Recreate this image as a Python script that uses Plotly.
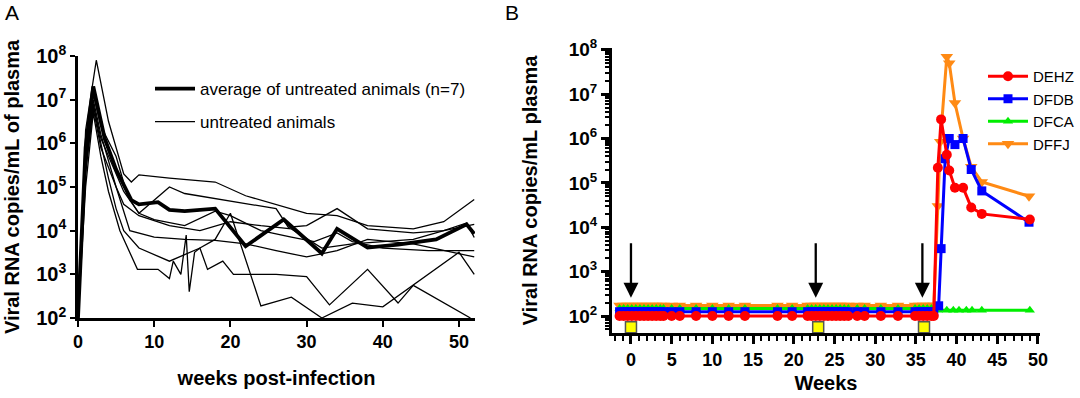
import plotly.graph_objects as go

FONT = "Liberation Sans, Arial, sans-serif"

# ---------------- Panel A data (weeks post-infection, viral RNA copies/mL) ----------------
avg_weeks = [0, 1, 2, 3.5, 5, 7, 8, 10.5, 12, 14, 18, 22, 27, 32, 34, 38, 42, 45, 47, 51, 52]
avg_vals = [1e2, 8e5, 2e7, 1.3e6, 2.5e5, 5e4, 4e4, 4.5e4, 3e4, 2.8e4, 3.2e4, 4.4e3, 1.8e4,
            3e3, 1.1e4, 4.1e3, 4.8e3, 5.6e3, 6.3e3, 1.4e4, 8.5e3]

a1_weeks = [0, 1, 2.4, 4, 6, 7, 8, 12, 18, 22, 30, 34, 38, 44, 48, 52]
a1_vals = [1e2, 2e6, 8e7, 3.2e6, 2e5, 1.3e5, 1.9e5, 1.6e5, 1.3e5, 6.3e4, 2.5e4, 2.2e4, 1.3e4,
           1.1e4, 1.6e4, 5.2e4]
a2_weeks = [0, 1, 2, 3, 5, 6.5, 8, 12, 14, 20, 26, 27.6, 30, 34, 38, 44, 48, 51, 52]
a2_vals = [1e2, 6.3e5, 1.3e7, 2.5e6, 5e5, 6.3e4, 2.5e4, 1e5, 7.1e4, 4.8e4, 3.2e4, 1.2e4, 1.3e4,
           3.2e4, 1.1e4, 8.9e3, 1e4, 1.5e4, 7e3]
a3_weeks = [0, 1, 2, 3, 4.5, 6, 8, 10, 14, 18, 20, 24, 28, 31, 34, 36, 40, 46, 52]
a3_vals = [1e2, 3.2e5, 7.9e6, 1.3e6, 3.2e5, 7.9e4, 2.5e4, 1.8e4, 1.3e4, 2.8e4, 2.2e4, 1e4, 7.1e3,
           5.6e3, 8.9e3, 5.6e3, 4e3, 3.5e3, 3.5e3]
a4_weeks = [0, 1, 2, 3, 5, 6.8, 10, 14, 18, 22, 26, 30, 34, 38, 44, 52]
a4_vals = [1e2, 2.5e5, 6.3e6, 7.9e5, 1e5, 1e4, 7.1e3, 6.3e3, 6e3, 5e3, 3.5e3, 2.5e3, 3.5e3,
           6.3e3, 5e3, 2.5e3]
a5_weeks = [0, 1, 2, 3, 4, 5.5, 7.8, 10.5, 12, 12.5, 13.5, 14.2, 14.6, 15.3, 16, 17, 19, 20.4,
            26, 30, 33, 38, 42, 44, 51.5]
a5_vals = [1e2, 1e5, 5e6, 5e5, 7.9e4, 1e4, 1.3e3, 1.3e3, 800, 2e3, 1e3, 7.9e3, 400, 3.2e3, 4e3,
           1.3e3, 2e3, 1e3, 1e3, 890, 200, 1.3e3, 220, 560, 100]
a6_weeks = [0, 1, 2, 3, 4, 5, 6, 8, 12, 16, 18, 20, 24, 28, 32, 36, 40, 46, 50, 52]
a6_vals = [1e2, 2e5, 7.9e6, 1e6, 1.6e5, 3.2e4, 1e4, 4e3, 2e3, 4e3, 6.3e3, 2.5e4, 190, 300, 100,
           220, 180, 1e3, 3.2e3, 1e3]
a7_weeks = [0, 1, 2, 3, 4, 5, 6, 8, 12, 16, 20, 24, 28, 32, 36, 40, 44, 48, 52]
a7_vals = [1e2, 4e5, 1e7, 1.6e6, 4e5, 1e5, 4e4, 2.2e4, 1.3e4, 1e4, 1.6e4, 1.3e4, 1.1e4, 4e3,
           5e3, 5.6e3, 6.3e3, 1e4, 1.4e4]

animals = [(a1_weeks, a1_vals), (a2_weeks, a2_vals), (a3_weeks, a3_vals), (a4_weeks, a4_vals),
           (a5_weeks, a5_vals), (a6_weeks, a6_vals), (a7_weeks, a7_vals)]

a_ytick_vals = [1e2, 1e3, 1e4, 1e5, 1e6, 1e7, 1e8]
a_ytick_text = ["10<sup>2</sup>", "10<sup>3</sup>", "10<sup>4</sup>", "10<sup>5</sup>",
                "10<sup>6</sup>", "10<sup>7</sup>", "10<sup>8</sup>"]
a_xtick_vals = [0, 10, 20, 30, 40, 50]

# ---------------- Panel B data ----------------
b_weeks_pre = [-1.4, -0.9, -0.4, 0.1, 0.6, 1.1, 1.6, 2.1, 2.6, 3.1, 3.6, 4.0, 5.0, 6.0, 8.0,
               10.0, 12.0, 14.0, 18.0, 19.8, 21.7, 22.2, 22.7, 23.2, 23.7, 24.2, 24.7, 25.2,
               25.7, 26.2, 26.7, 27.8, 28.7, 30.7, 32.8, 34.9, 35.4, 35.9, 36.4, 36.9, 37.2]

dehz_pre = [100, 100, 100, 100, 100, 100, 100, 100, 100, 100, 100, 100, 100, 100, 100, 100, 100,
            100, 100, 100, 100, 100, 100, 100, 100, 100, 100, 100, 100, 100, 100, 100, 100, 100,
            100, 100, 100, 100, 100, 100, 100]
dfdb_pre = [125, 125, 125, 125, 125, 125, 125, 125, 125, 125, 125, 125, 125, 125, 125, 125, 125,
            125, 125, 125, 125, 125, 125, 125, 125, 125, 125, 125, 125, 125, 125, 125, 125, 125,
            125, 125, 125, 125, 125, 125, 125]
dfca_pre = [148, 148, 148, 148, 148, 148, 148, 148, 148, 148, 148, 148, 148, 148, 148, 148, 148,
            148, 148, 148, 148, 148, 148, 148, 148, 148, 148, 148, 148, 148, 148, 148, 148, 148,
            148, 148, 148, 148, 148, 148, 148]
dffj_pre = [172, 172, 172, 172, 172, 172, 172, 172, 172, 172, 172, 172, 172, 172, 172, 172, 172,
            172, 172, 172, 172, 172, 172, 172, 172, 172, 172, 172, 172, 172, 172, 172, 172, 172,
            172, 172, 172, 172, 172, 172, 172]

dehz_weeks_post = [37.7, 38.1, 38.8, 39.1, 39.8, 40.8, 41.8, 43.1, 49.0]
dehz_post = [2.2e5, 2.7e6, 4.3e5, 1.9e5, 7.8e4, 7.8e4, 2.8e4, 2.0e4, 1.5e4]
dfdb_weeks_post = [37.8, 38.1, 38.6, 39.1, 39.8, 40.8, 41.8, 43.1, 48.9]
dfdb_post = [170, 3.3e3, 3.5e5, 1.0e6, 7.3e5, 1.0e6, 2.0e5, 6.6e4, 1.3e4]
dfca_weeks_post = [37.7, 38.8, 39.6, 40.3, 41.2, 41.9, 43.1, 49.0]
dfca_post = [135, 135, 135, 135, 135, 135, 135, 135]
dffj_weeks_post = [37.7, 38.0, 38.8, 39.1, 39.8, 40.8, 41.8, 43.1, 48.9]
dffj_post = [3.0e4, 8.5e5, 7.0e7, 5.0e7, 6.3e6, 1.0e6, 2.3e5, 1.05e5, 5.0e4]

arrow_weeks = [0, 22.7, 35.8]
arrow_tip_exp = [2.41, 2.41, 2.41]      # log10 copies/mL at arrow tip
square_weeks = [0, 23, 36]
square_vals = [56, 56, 56]

b_ytick_vals = [1e2, 1e3, 1e4, 1e5, 1e6, 1e7, 1e8]
b_ytick_text = a_ytick_text
b_xtick_vals = [0, 5, 10, 15, 20, 25, 30, 35, 40, 45, 50]

series_b = [
    ("DFFJ", b_weeks_pre + dffj_weeks_post, dffj_pre + dffj_post, "#ff8a14", "triangle-down", 11, 4),
    ("DFCA", b_weeks_pre + dfca_weeks_post, dfca_pre + dfca_post, "#00ee00", "triangle-up", 9, 3),
    ("DFDB", b_weeks_pre + dfdb_weeks_post, dfdb_pre + dfdb_post, "#0000ff", "square", 9, 2),
    ("DEHZ", b_weeks_pre + dehz_weeks_post, dehz_pre + dehz_post, "#ff0000", "circle", 10, 1),
]

fig = go.Figure()

# Panel A traces
for i, (w, v) in enumerate(animals):
    fig.add_trace(go.Scatter(
        x=w, y=v, mode="lines", name="untreated animals",
        line=dict(color="black", width=1.3),
        showlegend=(i == 0), legendgroup="thin", legendrank=2,
        xaxis="x", yaxis="y", legend="legend", cliponaxis=True))
fig.add_trace(go.Scatter(
    x=avg_weeks, y=avg_vals, mode="lines", name="average of untreated animals (n=7)",
    line=dict(color="black", width=3.8), legendgroup="avg", legendrank=1,
    xaxis="x", yaxis="y", legend="legend"))

# Panel B traces
for name, w, v, col, sym, size, rank in series_b:
    fig.add_trace(go.Scatter(
        x=w, y=v, mode="lines+markers", name=name,
        line=dict(color=col, width=3),
        marker=dict(color=col, symbol=sym, size=size),
        legendrank=rank, xaxis="x2", yaxis="y2", legend="legend2", cliponaxis=False))

fig.add_trace(go.Scatter(
    x=square_weeks, y=square_vals, mode="markers", showlegend=False,
    marker=dict(symbol="square", size=11, color="#ffff00", line=dict(color="#555555", width=1.5)),
    xaxis="x2", yaxis="y2", cliponaxis=False))

annotations = []
for wk, ex in zip(arrow_weeks, arrow_tip_exp):
    annotations.append(dict(
        x=wk, y=ex, xref="x2", yref="y2", text="", showarrow=True,
        ax=0, ay=-56, arrowhead=2, arrowsize=1.3, arrowwidth=2.3, arrowcolor="black",
        standoff=0))
annotations.append(dict(x=12 / 1080, y=1 - 13 / 398, xref="paper", yref="paper", text="A",
                        xanchor="center", yanchor="middle",
                        showarrow=False, font=dict(family=FONT, size=21, color="black")))
annotations.append(dict(x=512 / 1080, y=1 - 13 / 398, xref="paper", yref="paper", text="B",
                        xanchor="center", yanchor="middle",
                        showarrow=False, font=dict(family=FONT, size=21, color="black")))

b_minor = []
for e in range(1, 8):
    for m in range(2, 10):
        if m * 10 ** e >= 41:
            b_minor.append(m * 10 ** e)

tickfont_y = dict(family=FONT, size=20, color="black", weight="bold")
tickfont_x = dict(family=FONT, size=18, color="black", weight="bold")
titlefont = dict(family=FONT, size=20, color="black", weight="bold")

fig.update_layout(
    width=1080, height=398,
    margin=dict(l=0, r=0, t=0, b=0, autoexpand=False),
    paper_bgcolor="white", plot_bgcolor="white",
    font=dict(family=FONT, color="black"),
    annotations=annotations,
    xaxis=dict(domain=[78 / 1080, 475 / 1080], range=[0, 52.1], tickmode="array",
               tickvals=a_xtick_vals, ticks="outside", ticklen=6, tickwidth=2, tickcolor="black",
               showline=True, linewidth=2.5, linecolor="black", showgrid=False, zeroline=False,
               tickfont=tickfont_x, automargin=False,
               title=dict(text="weeks post-infection", font=titlefont, standoff=20)),
    yaxis=dict(type="log", domain=[1 - 318 / 398, 1 - 56 / 398], range=[2, 8], tickmode="array",
               tickvals=a_ytick_vals, ticktext=a_ytick_text, ticks="outside", ticklen=5,
               tickwidth=2, tickcolor="black", showline=True, linewidth=2.5, linecolor="black",
               showgrid=False, zeroline=False, tickfont=tickfont_y, automargin=False,
               title=dict(text="Viral RNA copies/mL of plasma", font=titlefont, standoff=12)),
    xaxis2=dict(domain=[612 / 1080, 1040 / 1080], range=[-2.33, 50.25], tickmode="array",
                tickvals=b_xtick_vals, ticks="outside", ticklen=8, tickwidth=2.5,
                tickcolor="black", showline=True, linewidth=3, linecolor="black",
                showgrid=False, zeroline=False, tickfont=tickfont_x, anchor="y2",
                automargin=False,
                minor=dict(dtick=1, tick0=0, ticks="outside", ticklen=5, tickwidth=2,
                           tickcolor="black", showgrid=False),
                title=dict(text="Weeks", font=titlefont, standoff=8)),
    yaxis2=dict(type="log", domain=[1 - 333 / 398, 1 - 48 / 398], range=[1.617, 8.04],
                tickmode="array", tickvals=b_ytick_vals, ticktext=b_ytick_text,
                ticks="outside", ticklen=8, tickwidth=2.5, tickcolor="black", showline=True,
                linewidth=3, linecolor="black", showgrid=False, zeroline=False,
                tickfont=dict(family=FONT, size=19, color="black", weight="bold"), anchor="x2",
                automargin=False,
                minor=dict(tickmode="array", tickvals=b_minor, ticks="outside", ticklen=4,
                           tickwidth=2, tickcolor="black", showgrid=False),
                title=dict(text="Viral RNA copies/mL plasma", font=titlefont, standoff=26)),
    legend=dict(x=150 / 1080, y=1 - 71 / 398, xanchor="left", yanchor="top",
                bgcolor="rgba(0,0,0,0)", font=dict(family=FONT, size=17, color="black"),
                itemwidth=40, tracegroupgap=8),
    legend2=dict(x=983 / 1080, y=1 - 60 / 398, xanchor="left", yanchor="top",
                 bgcolor="rgba(0,0,0,0)", font=dict(family=FONT, size=15, color="black"),
                 itemwidth=40, tracegroupgap=0),
)

fig.write_html("out.html", config={"displayModeBar": False},
               post_script="document.body.style.margin='0';document.body.style.overflow='hidden';")
